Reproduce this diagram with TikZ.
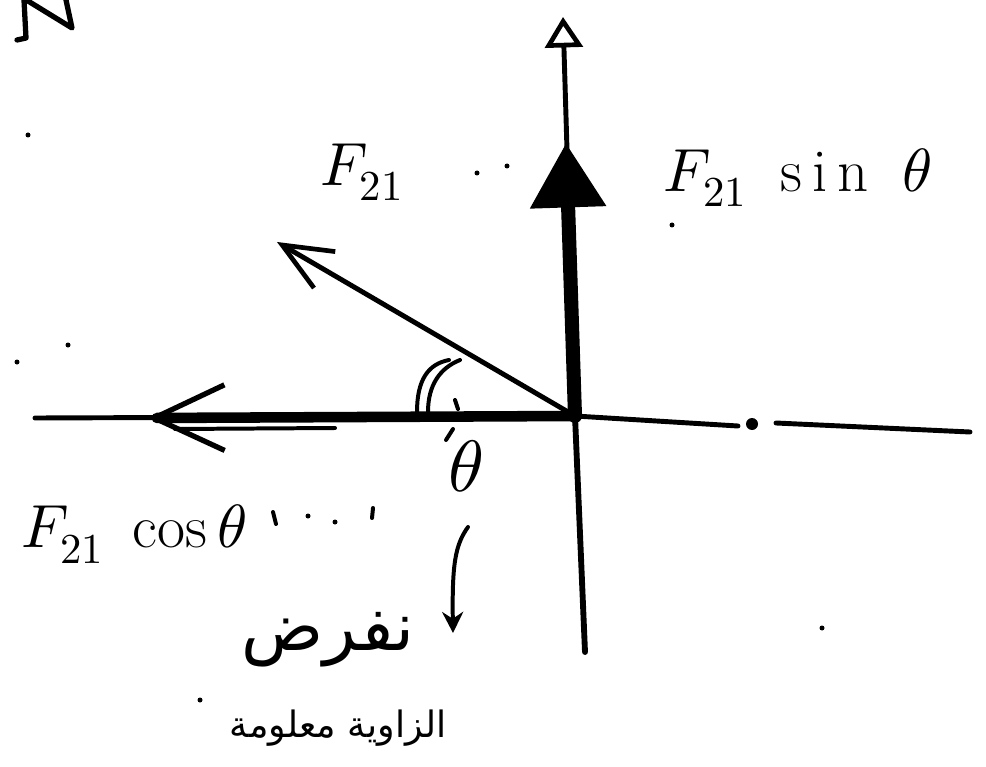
\documentclass[tikz,border=0pt]{standalone}
\usepackage{fontspec}
\usepackage{unicode-math}
\usetikzlibrary{arrows.meta}
\newfontfamily\arabicfont[Script=Arabic]{DejaVu Sans}
\TeXXeTstate=1
\begin{document}
\begin{tikzpicture}[x=0.03cm,y=-0.03cm, line cap=round, line join=round,
  axis/.style={line width=4.2pt},
  thinstroke/.style={line width=3.4pt},
  heavy/.style={line width=12pt},
  lbl/.style={font=\fontsize{52}{60}\selectfont, inner sep=0pt},
  arab/.style={inner sep=0pt}]
\useasboundingbox (0,0) rectangle (986,767);

% key points
\coordinate (O) at (575,416);
\coordinate (T) at (563,17);
\coordinate (B) at (585,652);
\coordinate (S) at (566,143);
\coordinate (P) at (277,242);
\coordinate (C) at (148,418);
\coordinate (L) at (35,418);
\coordinate (R1) at (738,426);
\coordinate (R2) at (776,423);
\coordinate (R) at (970,432);

% axes
\draw[axis] (L) -- (O) -- (R1);
\draw[axis] (R2) -- (R);
\fill (752,424) circle (6);
\draw[axis,line width=5pt] (B) -- (O);
\draw[axis,-{Triangle[open,length=26pt,width=32pt,line width=4pt]}] (O) -- (T);

% F21 sin theta component
\draw[heavy,-{Triangle[length=55pt,width=62pt]}] (O) -- (S);

% F21 cos theta component
\draw[line width=9pt,-{Straight Barb[length=60pt,width=56pt,line width=4.5pt]}] (O) -- (C);
\draw[thinstroke] (175,429) -- (335,428);

% F21 vector
\draw[axis,-{Straight Barb[length=42pt,width=36pt,line width=4pt]}] (O) -- (P);

% angle arcs
\draw[thinstroke] (417,412) .. controls (417,380) and (428,364) .. (449,360);
\draw[thinstroke] (428,412) .. controls (428,385) and (440,368) .. (460,360);
\draw[thinstroke] (453,429) -- (446,440);
\draw[thinstroke] (455,400) -- (458,409);

% labels
\node[lbl] (f21) at (362,172) {$F_{21}$};
\node[lbl] (fsin) at (798,178) {$F_{21}\;\;\mathrm{s\,i\,n}\;\;\theta$};
\node[lbl] (fcos) at (134,534) {$F_{21}\ \cos\theta$};
\node[lbl, font=\fontsize{62}{70}\selectfont] (th) at (466,466) {$\theta$};

% pointer arrow to note
\coordinate (a1) at (468,527);
\coordinate (a2) at (453,633);
\draw[thinstroke,-{Stealth[length=18pt,width=18pt]}] (a1) .. controls (455,545) and (452,565) .. (a2);

% Arabic note
\node[arab, font=\arabicfont\fontsize{58}{64}\selectfont] (ar1) at (328,640) {\beginR نفرض\endR};
\node[arab, font=\arabicfont\fontsize{31}{38}\selectfont] (ar2) at (338,728) {\beginR الزاوية معلومة\endR};

% fragment at top left
\draw[line width=4.5pt] (17,40) -- (26,38) -- (24,0);
\draw[line width=4.5pt] (28,1) -- (72,28) -- (66,0);

% stray specks
\foreach \p in {(28,135),(17,362),(68,345),(477,173),(507,166),(672,225),(308,516),(335,522),(822,628),(200,700)}
  \fill \p circle (2.5);
\draw[thinstroke] (273,512) -- (276,524);
\draw[thinstroke] (373,508) -- (372,518);
\end{tikzpicture}
\end{document}
